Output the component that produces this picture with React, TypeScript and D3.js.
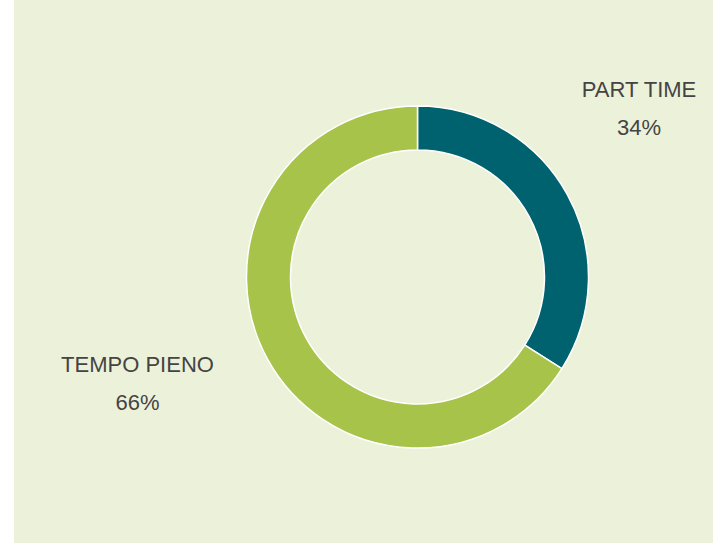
import React from "react";
import * as d3 from "d3";

const categories = ["PART TIME", "TEMPO PIENO"];
const values = [34, 66];
const valueLabels = ["34%", "66%"];
const colors = ["#00626e", "#a8c34a"];

const W = 713;
const H = 543;

export default function App() {
  const cx = 417.5;
  const cy = 277;
  const outerR = 171;
  const innerR = 127;

  const pie = d3.pie<number>().value((d) => d).sort(null);
  const arcs = pie(values);
  const arcGen = d3.arc<d3.PieArcDatum<number>>().innerRadius(innerR).outerRadius(outerR);

  const labelPos = [
    { x: 639, y: 97 },
    { x: 137.5, y: 372 },
  ];

  return (
    <svg
      width={W}
      height={H}
      style={{ position: "absolute", left: 0, top: 0, display: "block" }}
    >
      <rect x={14} y={0} width={W - 14} height={H} fill="#ecf1da" />
      <g transform={`translate(${cx},${cy})`}>
        {arcs.map((a, i) => (
          <path
            key={categories[i]}
            d={arcGen(a) || ""}
            fill={colors[i]}
            stroke="#ffffff"
            strokeWidth={1.5}
          />
        ))}
      </g>
      {categories.map((c, i) => (
        <g key={c} fontFamily="'Liberation Sans', Arial, sans-serif" fontSize={22} fill="#444444" textAnchor="middle">
          <text x={labelPos[i].x} y={labelPos[i].y}>{c}</text>
          <text x={labelPos[i].x} y={labelPos[i].y + 38}>{valueLabels[i]}</text>
        </g>
      ))}
    </svg>
  );
}
